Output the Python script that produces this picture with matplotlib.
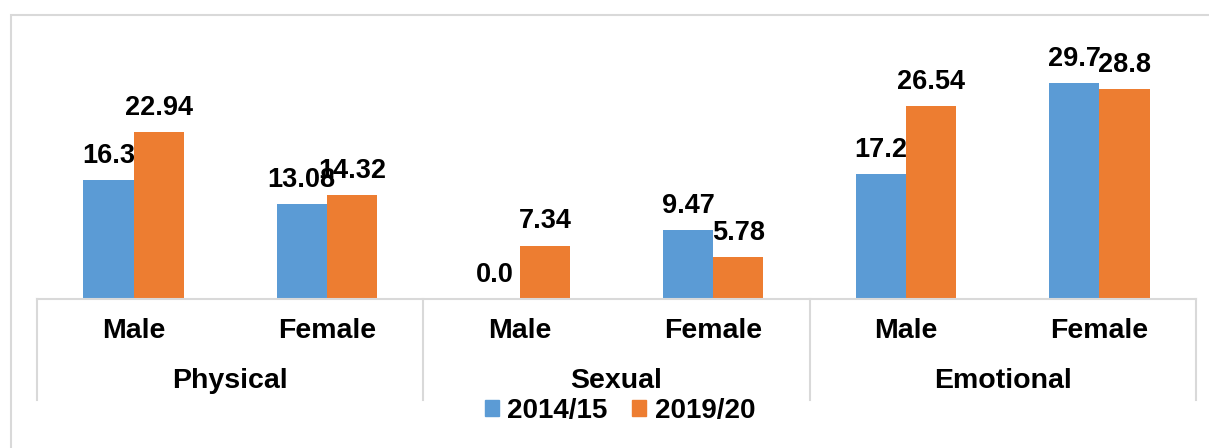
import matplotlib.pyplot as plt
from matplotlib.patches import Patch, Rectangle
from matplotlib.transforms import blended_transform_factory

plt.rcParams['font.family'] = ['Liberation Sans', 'DejaVu Sans']
plt.rcParams['font.weight'] = 'bold'

# data
groups = ['Physical', 'Sexual', 'Emotional']
genders = ['Male', 'Female']
series_names = ['2014/15', '2019/20']
values_1415 = [16.3, 13.08, 0.0, 9.47, 17.2, 29.7]
values_1920 = [22.94, 14.32, 7.34, 5.78, 26.54, 28.8]

blue = '#5B9BD5'
orange = '#ED7D31'
grid_grey = '#D9D9D9'

fig = plt.figure(figsize=(12.09, 4.48), dpi=100)
ax = fig.add_axes([37 / 1209, 149 / 448, 1159 / 1209, 255 / 448])

# outer chart frame (light grey, cut off on the right/bottom like the source)
fig.patches.append(Rectangle((11 / 1209, -0.2), 1.2, (448 - 15) / 448 + 0.2,
                             transform=fig.transFigure, fill=False,
                             edgecolor=grid_grey, linewidth=1.5))

n = len(values_1415)
x = list(range(n))
w = 0.26

b1 = ax.bar([i - w / 2 for i in x], values_1415, w, color=blue, label=series_names[0])
b2 = ax.bar([i + w / 2 for i in x], values_1920, w, color=orange, label=series_names[1])

for bars, vals in [(b1, values_1415), (b2, values_1920)]:
    for bar, v in zip(bars, vals):
        ax.annotate(str(v), (bar.get_x() + bar.get_width() / 2, bar.get_height()),
                    xytext=(0, 8), textcoords='offset points',
                    ha='center', va='bottom', fontsize=19.5, fontweight='bold')

ax.set_xlim(-0.5, n - 0.5)
ax.set_ylim(0, 35)
ax.set_yticks([])
ax.set_xticks([])
for side in ['top', 'left', 'right']:
    ax.spines[side].set_visible(False)
ax.spines['bottom'].set_color(grid_grey)
ax.spines['bottom'].set_linewidth(1.5)

trans = blended_transform_factory(ax.transData, ax.transAxes)

# category labels, group labels and separators
for i in x:
    ax.text(i, -0.125, genders[i % 2], transform=trans, ha='center', va='center',
            fontsize=20.5, fontweight='bold')
for g, name in enumerate(groups):
    ax.text(2 * g + 0.5, -0.32, name, transform=trans, ha='center', va='center',
            fontsize=20.5, fontweight='bold')
for sep in [-0.5, 1.5, 3.5, 5.5]:
    ax.plot([sep, sep], [0, -0.396], transform=trans, color=grid_grey,
            linewidth=1.5, clip_on=False)

handles = [Patch(color=blue, label=series_names[0]),
           Patch(color=orange, label=series_names[1])]
fig.legend(handles=handles, loc='center', ncol=2, frameon=False,
           bbox_to_anchor=(620 / 1209, 37 / 448),
           handlelength=0.5, handleheight=0.5, handletextpad=0.3,
           columnspacing=0.9, prop={'weight': 'bold', 'size': 20})

fig.savefig('out.png', dpi=100)
